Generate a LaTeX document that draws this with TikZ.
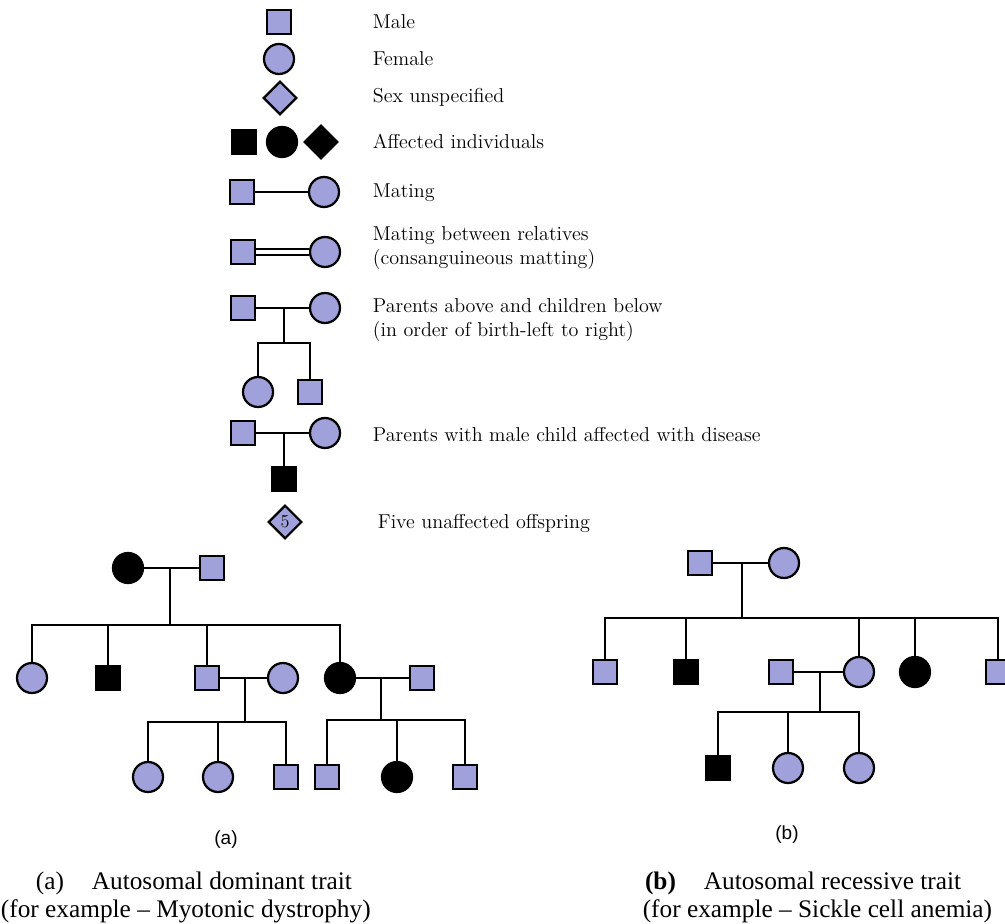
\documentclass[tikz,border=0pt]{standalone}
\usepackage{fontspec}
\usetikzlibrary{shapes.geometric,calc}

\newfontfamily\capfont{Liberation Serif}
\newfontfamily\tagfont{Liberation Sans}
\definecolor{lav}{RGB}{160,160,218}

\begin{document}
\begin{tikzpicture}[x=0.025cm, y=-0.025cm, line width=1.3pt,
    male/.style={draw, rectangle, fill=lav, inner sep=0, minimum size=0.6cm, line width=1.6pt},
    female/.style={draw, circle, fill=lav, inner sep=0, minimum size=0.75cm, line width=1.6pt},
    nosex/.style={draw, shape=diamond, fill=lav, inner sep=0, minimum size=0.84cm, line width=1.6pt},
    affected/.style={fill=black},
    keytext/.style={anchor=west, align=left, inner sep=0, font=\fontsize{14.3}{16.5}\selectfont},
    captext/.style={inner sep=0, font=\capfont\fontsize{18}{20}\selectfont},
    tagtext/.style={font=\tagfont\fontsize{13.5}{15}\selectfont}]

    \useasboundingbox (0,0) rectangle (1005,924);

    % Symbols
    \node[male] (M) at (279,22) {};
    \node[female] (F) at (279,59) {};
    \node[nosex] (U) at (280,98) {};
    \node[male, affected] (AM) at (244,142) {};
    \node[female, affected] (AF) at (282,142) {};
    \node[nosex, affected] (AU) at (321,142) {};

    % Mating
    \node[male] (m1) at (242,192) {};
    \node[female] (f1) at (324,192) {};
    \draw (m1) -- (f1);

    % Consanguineous mating
    \node[male] (m2) at (243,252) {};
    \node[female] (f2) at (325,252) {};
    \draw[double, double distance=1mm] (m2) -- (f2);

    % Parents and children
    \node[male] (m3) at (243,308) {};
    \node[female] (f3) at (325,308) {};
    \node[female] (c31) at (258,392) {};
    \node[male] (c32) at (310,392) {};
    \draw (m3) -- (f3);
    \coordinate (p3) at ($(m3)!.5!(f3)$);
    \coordinate (s3) at ($(p3)+(0,35)$);
    \draw (p3) -- (s3);
    \draw (c31) |- (s3) -| (c32);

    % Affected son
    \node[male] (m4) at (243,433) {};
    \node[female] (f4) at (325,433) {};
    \node[male, affected] (c41) at (284,479) {};
    \draw (m4) -- (f4);
    \draw ($(m4)!.5!(f4)$) -- (c41);

    % Offspring count
    \node[nosex, font=\fontsize{13}{13}\selectfont] (U5) at (285,522) {5};

    % Key texts
    \node[keytext] (tM) at (372,22) {Male};
    \node[keytext] (tF) at (372,59) {Female};
    \node[keytext] (tU) at (372,97) {Sex unspecified};
    \node[keytext] (tA) at (372,141) {Affected individuals};
    \node[keytext] (tMa) at (372,193) {Mating};
    \node[keytext] (tC) at (372,248) {Mating between relatives\\(consanguineous matting)};
    \node[keytext] (tP) at (372,320) {Parents above and children below\\(in order of birth-left to right)};
    \node[keytext] (tD) at (372,435) {Parents with male child affected with disease};
    \node[keytext] (tV) at (377,523) {Five unaffected offspring};

    % Pedigree (a)
    \node[female, affected] (a1) at (128,568) {};
    \node[male] (a2) at (212,568) {};
    \node[female] (a3) at (32,678) {};
    \node[male, affected] (a4) at (108,678) {};
    \node[male] (a5) at (207,678) {};
    \node[female] (a7) at (283,678) {};
    \node[female, affected] (a6) at (340,678) {};
    \node[male] (a8) at (422,678) {};
    \node[female] (a9) at (148,777) {};
    \node[female] (a10) at (218,777) {};
    \node[male] (a11) at (286,777) {};
    \node[male] (a12) at (327,777) {};
    \node[female, affected] (a13) at (397,777) {};
    \node[male] (a14) at (465,777) {};

    \draw (a1) -- (a2);
    \coordinate (pa) at ($(a1)!.5!(a2)$);
    \coordinate (sa) at ($(pa)+(0,57)$);
    \draw (pa) -- (sa);
    \draw (a3) |- (sa) -| (a6);
    \draw (a4) -- (a4 |- sa);
    \draw (a5) -- (a5 |- sa);

    \draw (a5) -- (a7);
    \coordinate (pb) at ($(a5)!.5!(a7)$);
    \coordinate (sb) at ($(pb)+(0,44)$);
    \draw (pb) -- (sb);
    \draw (a9) |- (sb) -| (a11);
    \draw (a10) -- (a10 |- sb);

    \draw (a6) -- (a8);
    \coordinate (pc) at ($(a6)!.5!(a8)$);
    \coordinate (sc) at ($(pc)+(0,42)$);
    \draw (pc) -- (sc);
    \draw (a12) |- (sc) -| (a14);
    \draw (a13) -- (a13 |- sc);

    % Pedigree (b)
    \node[male] (b1) at (700,563) {};
    \node[female] (b2) at (784,563) {};
    \node[male] (b3) at (605,672) {};
    \node[male, affected] (b4) at (686,672) {};
    \node[male] (b8) at (781,672) {};
    \node[female] (b5) at (859,672) {};
    \node[female, affected] (b6) at (915,672) {};
    \node[male] (b7) at (998,672) {};
    \node[male, affected] (b9) at (718,768) {};
    \node[female] (b10) at (788,768) {};
    \node[female] (b11) at (859,768) {};

    \draw (b1) -- (b2);
    \coordinate (pd) at ($(b1)!.5!(b2)$);
    \coordinate (sd) at ($(pd)+(0,55)$);
    \draw (pd) -- (sd);
    \draw (b3) |- (sd) -| (b7);
    \draw (b4) -- (b4 |- sd);
    \draw (b5) -- (b5 |- sd);
    \draw (b6) -- (b6 |- sd);

    \draw (b8) -- (b5);
    \coordinate (pe) at ($(b8)!.5!(b5)$);
    \coordinate (se) at ($(pe)+(0,40)$);
    \draw (pe) -- (se);
    \draw (b9) |- (se) -| (b11);
    \draw (b10) -- (b10 |- se);

    % Labels and captions
    \node[tagtext] (la) at (226,840) {(a)};
    \node[tagtext] (lb) at (787,835) {(b)};
    \node[captext, anchor=west] (ca1) at (35,883) {(a)\hspace{1.1em}Autosomal dominant trait};
    \node[captext, anchor=west] (ca2) at (0,911) {(for example – Myotonic dystrophy)};
    \node[captext, anchor=east] (cb1) at (962,883) {\textbf{(b)}\hspace{1.1em}Autosomal recessive trait};
    \node[captext, anchor=east] (cb2) at (993,911) {(for example – Sickle cell anemia)};

\end{tikzpicture}
\end{document}
